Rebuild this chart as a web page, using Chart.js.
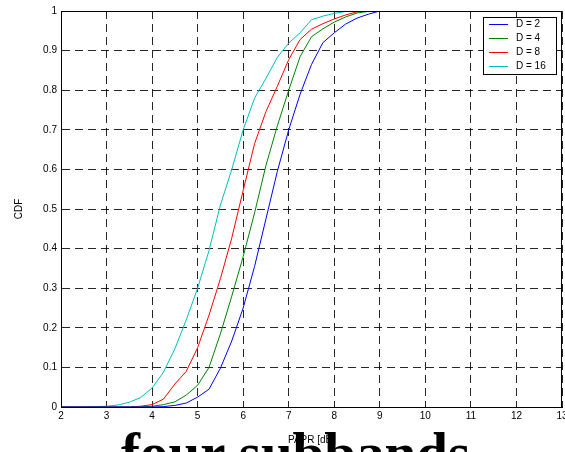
<!DOCTYPE html>
<html>
<head>
<meta charset="utf-8">
<script src="https://cdn.jsdelivr.net/npm/chart.js@4/dist/chart.umd.min.js"></script>
<style>
  html, body { margin: 0; padding: 0; background: #fff; }
  #wrap { position: relative; width: 565px; height: 452px; overflow: hidden; }
  #caption {
    position: absolute; left: 121px; top: 424px;
    font: bold 57px "Liberation Serif", "Times New Roman", serif;
    line-height: 1; white-space: nowrap; color: #000; z-index: 0;
  }
  #cdfChart { position: absolute; left: 0; top: 0; z-index: 1; }
</style>
</head>
<body>
<div id="wrap">
  <div id="caption">four subbands</div>
  <canvas id="cdfChart" width="565" height="452"></canvas>
</div>
<script>
// PAPR grid (dB) and CDF values
const papr = [2, 2.25, 2.5, 2.75, 3, 3.25, 3.5, 3.75, 4, 4.25, 4.5, 4.75, 5, 5.25, 5.5,
              5.75, 6, 6.25, 6.5, 6.75, 7, 7.25, 7.5, 7.75, 8, 8.25, 8.5, 8.75, 9, 13];

const cdfD2 = [0, 0, 0, 0, 0, 0, 0, 0, 0, 0.001, 0.004, 0.01, 0.025, 0.045, 0.098,
               0.167, 0.25, 0.355, 0.475, 0.595, 0.70, 0.79, 0.865, 0.92, 0.945, 0.967, 0.982, 0.992, 1, 1];
const cdfD4 = [0, 0, 0, 0, 0, 0, 0, 0, 0.002, 0.006, 0.013, 0.03, 0.055, 0.1, 0.185,
               0.28, 0.38, 0.49, 0.61, 0.71, 0.80, 0.885, 0.935, 0.955, 0.972, 0.985, 0.995, 0.999, 1, 1];
const cdfD8 = [0, 0, 0, 0, 0, 0, 0, 0.002, 0.006, 0.02, 0.058, 0.09, 0.15, 0.232, 0.324,
               0.427, 0.547, 0.665, 0.746, 0.81, 0.877, 0.928, 0.954, 0.968, 0.98, 0.99, 0.998, 1, 1, 1];
const cdfD16 = [0, 0, 0, 0.001, 0.002, 0.005, 0.012, 0.024, 0.048, 0.088, 0.147, 0.22, 0.30, 0.395, 0.51,
                0.60, 0.70, 0.78, 0.83, 0.883, 0.919, 0.945, 0.978, 0.987, 0.994, 0.999, 1, 1, 1, 1];

const seriesLabels = ['D = 2', 'D = 4', 'D = 8', 'D = 16'];
const seriesColors = ['#0000ff', '#008000', '#ff0000', '#00bfbf'];
const seriesValues = [cdfD2, cdfD4, cdfD8, cdfD16];

const xTicks = [2, 3, 4, 5, 6, 7, 8, 9, 10, 11, 12, 13];
const yTicks = [0, 0.1, 0.2, 0.3, 0.4, 0.5, 0.6, 0.7, 0.8, 0.9, 1];

const font = { family: '"Liberation Sans", Arial, sans-serif', size: 10 };

// box round the plot + legend in the upper right corner
const matlabFrame = {
  id: 'matlabFrame',
  afterDatasetsDraw(chart) {
    const { ctx, chartArea: a } = chart;
    ctx.save();
    ctx.strokeStyle = '#000';
    ctx.lineWidth = 1;
    ctx.strokeRect(a.left + 0.5, a.top + 0.5, a.right - a.left - 1, a.bottom - a.top);

    const w = 73, h = 57;
    const x = a.right - 6 - w, y = a.top + 6;
    ctx.fillStyle = '#fff';
    ctx.fillRect(x, y, w, h);
    ctx.strokeRect(x + 0.5, y + 0.5, w, h);
    ctx.font = '10px "Liberation Sans", Arial, sans-serif';
    ctx.textBaseline = 'middle';
    chart.data.datasets.forEach((ds, i) => {
      const ry = y + 7.5 + i * 14;
      ctx.strokeStyle = ds.borderColor;
      ctx.beginPath();
      ctx.moveTo(x + 6, ry);
      ctx.lineTo(x + 25, ry);
      ctx.stroke();
      ctx.fillStyle = '#000';
      ctx.fillText(ds.label, x + 33, ry);
    });
    ctx.restore();
  }
};

const ctx = document.getElementById('cdfChart').getContext('2d');
new Chart(ctx, {
  type: 'scatter',
  data: {
    datasets: seriesValues.map((vals, i) => ({
      label: seriesLabels[i],
      data: papr.map((p, j) => ({ x: p, y: vals[j] })),
      showLine: true,
      borderColor: seriesColors[i],
      backgroundColor: seriesColors[i],
      borderWidth: 1,
      pointRadius: 0,
      tension: 0
    }))
  },
  options: {
    responsive: false,
    animation: false,
    layout: { padding: { top: 11, right: 3, left: 0, bottom: 0 } },
    plugins: { legend: { display: false }, tooltip: { enabled: false } },
    scales: {
      x: {
        type: 'linear', min: 2, max: 13,
        afterBuildTicks: s => { s.ticks = xTicks.map(v => ({ value: v })); },
        afterFit: s => { s.height = 45; s.paddingLeft = 0; s.paddingRight = 0; },
        ticks: { color: '#000', font, padding: 3, maxRotation: 0, autoSkip: false },
        grid: { color: 'rgba(0,0,0,0.85)', tickLength: 0, drawTicks: false },
        border: { display: true, color: '#000', dash: [8, 5] },
        title: { display: true, text: 'PAPR [dB]', color: '#000', font, padding: { top: 0, bottom: 6 } }
      },
      y: {
        type: 'linear', min: 0, max: 1,
        afterBuildTicks: s => { s.ticks = yTicks.map(v => ({ value: v })); },
        afterFit: s => { s.width = 61; s.paddingTop = 0; s.paddingBottom = 0; },
        ticks: { color: '#000', font, padding: 4, callback: v => String(Math.round(v * 10) / 10) },
        grid: { color: 'rgba(0,0,0,0.85)', tickLength: 0, drawTicks: false },
        border: { display: true, color: '#000', dash: [8, 5] },
        title: { display: true, text: 'CDF', color: '#000', font, padding: { top: 13, bottom: 0 } }
      }
    }
  },
  plugins: [matlabFrame]
});
</script>
</body>
</html>
